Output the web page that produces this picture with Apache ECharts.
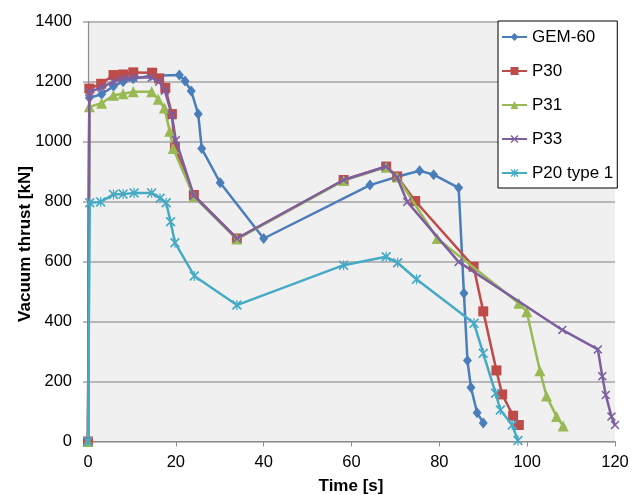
<!DOCTYPE html>
<html>
<head>
<meta charset="utf-8">
<script src="https://cdn.jsdelivr.net/npm/echarts@6/dist/echarts.min.js"></script>
<style>html,body{margin:0;padding:0;background:#fff}#c{width:643px;height:495px}</style>
</head>
<body>
<div id="c"></div>
<script>
const seriesNames = ['GEM-60', 'P30', 'P31', 'P33', 'P20 type 1'];
const xTicks = [0, 20, 40, 60, 80, 100, 120];
const yTicks = [0, 200, 400, 600, 800, 1000, 1200, 1400];

const gem60 = [[0,0],[0.3,1146],[3.1,1158],[5.8,1185],[8.0,1200],[10.3,1210],[14.3,1220],[20.8,1222],[22.1,1202],[23.5,1169],[25.1,1092],[25.9,977],[30.1,863],[40.0,677],[64.2,855],[70.4,883],[75.5,903],[78.7,890],[84.4,846],[85.6,494],[86.4,270],[87.2,180],[88.6,96],[90.0,62]];
const p30 = [[0,0],[0.3,1177],[3.0,1193],[5.8,1222],[8.0,1224],[10.3,1231],[14.6,1230],[16.2,1211],[17.6,1179],[19.1,1092],[19.8,981],[24.1,822],[33.9,677],[58.2,872],[67.9,917],[70.4,884],[74.5,802],[87.8,583],[90.0,434],[93.0,237],[94.3,157],[96.8,86],[98.1,55]];
const p31 = [[0,0],[0.3,1116],[3.1,1128],[5.8,1155],[8.0,1160],[10.3,1166],[14.5,1166],[16.0,1141],[17.4,1112],[18.6,1035],[19.4,977],[24.1,817],[33.9,675],[58.2,870],[67.9,915],[70.4,882],[79.5,677],[98.1,461],[99.9,433],[102.9,236],[104.4,152],[106.7,83],[108.2,52]];
const p33 = [[0,0],[0.3,1166],[3.1,1180],[5.8,1200],[8.0,1210],[10.3,1214],[14.5,1214],[16.2,1200],[17.5,1170],[19.1,1088],[20.0,1005],[24.1,820],[33.9,677],[58.2,872],[67.9,917],[70.4,880],[72.7,799],[84.4,599],[108.0,372],[116.1,307],[117.1,218],[117.9,155],[119.2,83],[120.0,55]];
const p20 = [[0,0],[0.4,796],[2.9,799],[5.8,824],[8.0,825],[10.5,829],[14.5,829],[16.4,811],[17.8,796],[18.8,733],[19.8,663],[24.2,552],[33.9,455],[58.2,588],[67.9,616],[70.5,596],[74.8,541],[87.9,394],[90.0,294],[92.8,161],[93.9,105],[96.6,55],[97.9,3]];

const colors = ['#4A7EBB', '#BE4B48', '#98B954', '#7D5FA0', '#46AAC5'];
const xSym = 'path://M0,1.2 L1.2,0 L5,3.8 L8.8,0 L10,1.2 L6.2,5 L10,8.8 L8.8,10 L5,6.2 L1.2,10 L0,8.8 L3.8,5 Z';
const starSym = 'path://M0,1.2 L1.2,0 L5,3.8 L8.8,0 L10,1.2 L6.2,5 L10,8.8 L8.8,10 L5,6.2 L1.2,10 L0,8.8 L3.8,5 Z M4.4,0 L5.6,0 L5.6,10 L4.4,10 Z';
const symbols = ['diamond', 'rect', 'triangle', xSym, starSym];
const sizes = [[9,11], 10, 11, 9, 10];
const datasets = [gem60, p30, p31, p33, p20];

const FONT = 'Liberation Sans';
const chart = echarts.init(document.getElementById('c'));
chart.setOption({
  animation: false,
  grid: { left: 88, right: 28, top: 21.7, bottom: 53.5, show: true, backgroundColor: '#F0F0F0', borderWidth: 0 },
  xAxis: {
    type: 'value', min: xTicks[0], max: xTicks[xTicks.length-1], interval: 20,
    axisLine: { show: true, lineStyle: { color: '#8C8C8C', width: 1.2 } },
    axisTick: { show: true, inside: false, length: 5, lineStyle: { color: '#8C8C8C' } },
    splitLine: { show: false },
    axisLabel: { color: '#000', fontFamily: FONT, fontSize: 16.5, margin: 12, formatter: v => String(v) }
  },
  yAxis: {
    type: 'value', min: yTicks[0], max: yTicks[yTicks.length-1], interval: 200,
    axisLine: { show: true, lineStyle: { color: '#8C8C8C', width: 1.2 } },
    axisTick: { show: true, inside: false, length: 5, lineStyle: { color: '#A5A5A5', width: 1.5 } },
    splitLine: { show: true, lineStyle: { color: '#A5A5A5', width: 1.5 } },
    axisLabel: { color: '#000', fontFamily: FONT, fontSize: 16.5, margin: 16, formatter: v => String(v) }
  },
  legend: {
    orient: 'vertical', left: 498, top: 21,
    backgroundColor: '#fff', borderColor: '#000', borderWidth: 1,
    padding: [6, 4, 5, 3],
    itemWidth: 25, itemHeight: 10, itemGap: 14,
    textStyle: { fontFamily: FONT, fontSize: 17, color: '#000', lineHeight: 20 },
    data: seriesNames
  },
  graphic: [
    { type: 'text', x: 25, y: 244, rotation: Math.PI / 2,
      style: { text: 'Vacuum thrust [kN]', font: 'bold 17px "Liberation Sans"', fill: '#000', align: 'center', verticalAlign: 'middle' } },
    { type: 'text', x: 351, y: 486,
      style: { text: 'Time [s]', font: 'bold 17px "Liberation Sans"', fill: '#000', align: 'center', verticalAlign: 'middle' } }
  ],
  series: datasets.map((d, i) => ({
    name: seriesNames[i], type: 'line', data: d,
    symbol: symbols[i], symbolSize: sizes[i], showAllSymbol: true,
    lineStyle: { color: colors[i], width: 2.5 },
    itemStyle: { color: colors[i], borderWidth: 0 },
    z: 2 + i
  }))
});
</script>
</body>
</html>
